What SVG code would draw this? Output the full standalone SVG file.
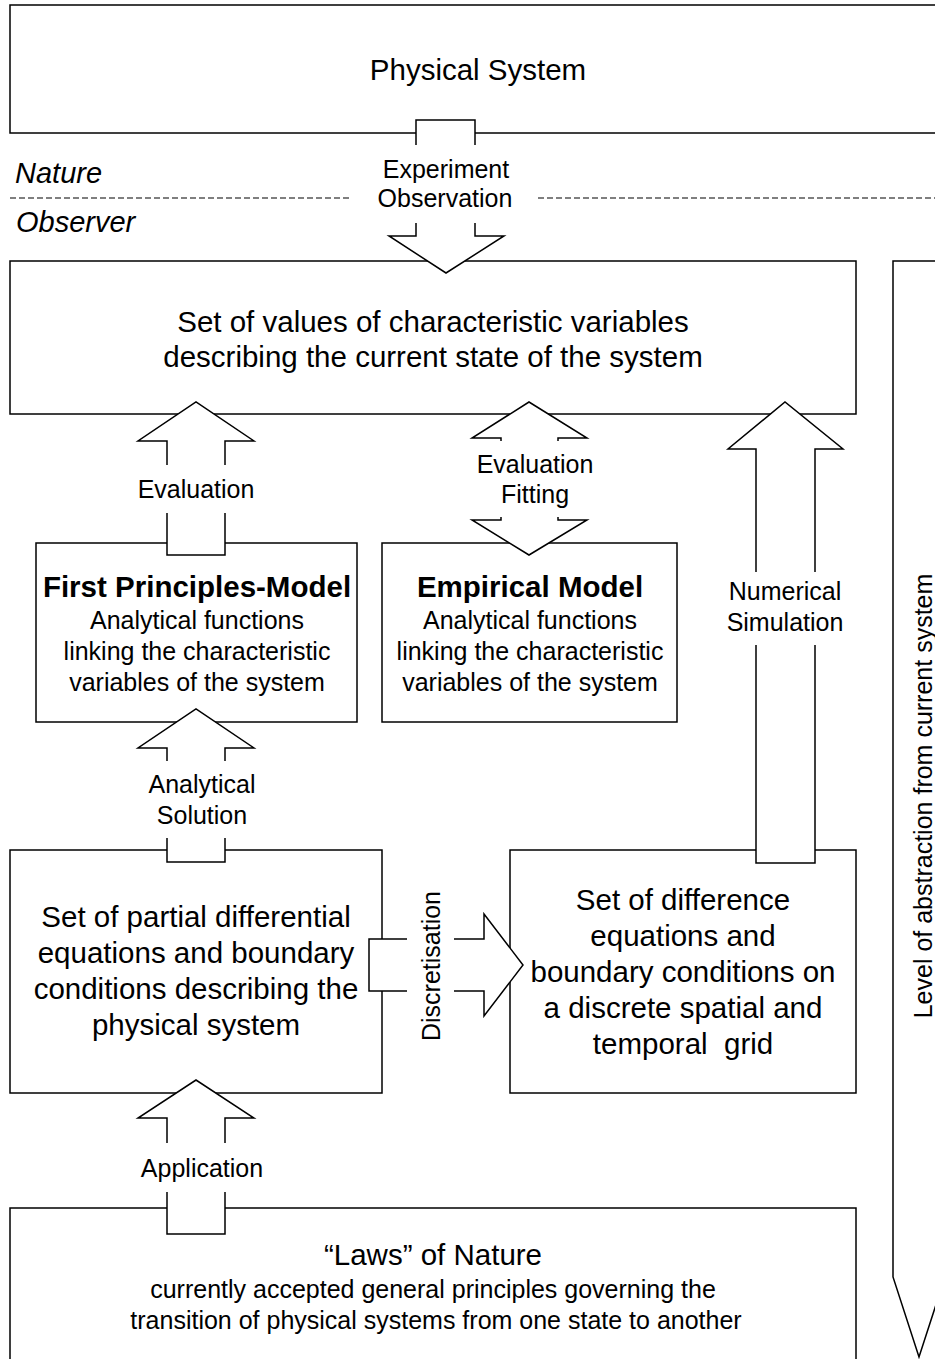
<svg xmlns="http://www.w3.org/2000/svg" width="935" height="1359" viewBox="0 0 935 1359">
<style>
.box{fill:#fff;stroke:#000;stroke-width:1.5}
.af{fill:#fff;stroke:none}
.as{fill:none;stroke:#000;stroke-width:1.5;stroke-linejoin:miter}
.big{font-family:"Liberation Sans",Arial,sans-serif;font-size:29.5px;fill:#000;text-anchor:middle}
.bold{font-family:"Liberation Sans",Arial,sans-serif;font-size:29.5px;font-weight:bold;fill:#000;text-anchor:middle}
.lbl{font-family:"Liberation Sans",Arial,sans-serif;font-size:25px;fill:#000;text-anchor:middle}
.it{font-family:"Liberation Sans",Arial,sans-serif;font-size:29px;font-style:italic;fill:#000}
.dash{stroke:#000;stroke-width:1.2;stroke-dasharray:6,3;fill:none}
</style>
<rect width="935" height="1359" fill="#fff"/>

<g id="nature-observer">
<text class="it" x="15" y="183">Nature</text>
<text class="it" x="16" y="232">Observer</text>
<path class="dash" d="M10,198 H352 M538,198 H935"/>
</g>

<g id="physical-system">
<rect class="box" x="10" y="5" width="940" height="128"/>
<text class="big" x="478" y="80">Physical System</text>
</g>

<g id="state-values">
<rect class="box" x="10" y="261" width="846" height="153"/>
<text class="big" x="433" y="332">Set of values of characteristic variables</text>
<text class="big" x="433" y="367">describing the current state of the system</text>
</g>

<g id="first-principles">
<rect class="box" x="36" y="543" width="321" height="179"/>
<text class="bold" x="197" y="597">First Principles-Model</text>
<text class="lbl" x="197" y="629">Analytical functions</text>
<text class="lbl" x="197" y="660">linking the characteristic</text>
<text class="lbl" x="197" y="691">variables of the system</text>
</g>

<g id="empirical">
<rect class="box" x="382" y="543" width="295" height="179"/>
<text class="bold" x="530" y="597">Empirical Model</text>
<text class="lbl" x="530" y="629">Analytical functions</text>
<text class="lbl" x="530" y="660">linking the characteristic</text>
<text class="lbl" x="530" y="691">variables of the system</text>
</g>

<g id="pde">
<rect class="box" x="10" y="850" width="372" height="243"/>
<text class="big" x="196" y="927">Set of partial differential</text>
<text class="big" x="196" y="963">equations and boundary</text>
<text class="big" x="196" y="999">conditions describing the</text>
<text class="big" x="196" y="1035">physical system</text>
</g>

<g id="difference">
<rect class="box" x="510" y="850" width="346" height="243"/>
<text class="big" x="683" y="910">Set of difference</text>
<text class="big" x="683" y="946">equations and</text>
<text class="big" x="683" y="982">boundary conditions on</text>
<text class="big" x="683" y="1018">a discrete spatial and</text>
<text class="big" x="683" y="1054" xml:space="preserve">temporal  grid</text>
</g>

<g id="laws">
<rect class="box" x="10" y="1208" width="846" height="200"/>
<text class="big" x="433" y="1265">“Laws” of Nature</text>
<text class="lbl" font-size="25.5" x="433" y="1298">currently accepted general principles governing the</text>
<text class="lbl" font-size="25.5" x="436" y="1329">transition of physical systems from one state to another</text>
</g>

<g id="abstraction-arrow">
<path class="box" d="M893,261 H945 V1277 L919,1357 L893,1277 Z"/>
<text class="lbl" font-size="24" transform="translate(932,796) rotate(-90)">Level of abstraction from current system</text>
</g>

<g id="connectors">
<g id="experiment">
<path class="af" d="M416,120 H475 V236 H504 L446,273 L389,236 H416 Z"/>
<path class="as" d="M416,145 V120 H475 V145 M416,223 V236 H389 L446,273 L504,236 H475 V223"/>
<text class="lbl" x="446" y="178">Experiment</text>
<text class="lbl" x="445" y="207">Observation</text>
</g>
<g id="evaluation">
<path class="af" d="M196,402 L254,441 H225 V555 H167 V441 H138 Z"/>
<path class="as" d="M167,465 V441 H138 L196,402 L254,441 H225 V465 M167,513 V555 H225 V513"/>
<text class="lbl" x="196" y="498">Evaluation</text>
</g>
<g id="evaluation-fitting">
<path class="af" d="M529,402 L587,438 H558 V520 H587 L529,555 L472,520 H501 V438 H472 Z"/>
<path class="as" d="M501,441 V438 H472 L529,402 L587,438 H558 V441 M501,517 V520 H472 L529,555 L587,520 H558 V517"/>
<text class="lbl" x="535" y="473">Evaluation</text>
<text class="lbl" x="535" y="503">Fitting</text>
</g>
<g id="numerical">
<path class="af" d="M785,402 L843,449 H815 V863 H756 V449 H728 Z"/>
<path class="as" d="M756,572 V449 H728 L785,402 L843,449 H815 V572 M756,645 V863 H815 V645"/>
<text class="lbl" x="785" y="600">Numerical</text>
<text class="lbl" x="785" y="631">Simulation</text>
</g>
<g id="analytical">
<path class="af" d="M196,709 L254,748 H225 V862 H167 V748 H138 Z"/>
<path class="as" d="M167,761 V748 H138 L196,709 L254,748 H225 V761 M167,838 V862 H225 V838"/>
<text class="lbl" x="202" y="793">Analytical</text>
<text class="lbl" x="202" y="824">Solution</text>
</g>
<g id="application">
<path class="af" d="M196,1080 L254,1118 H225 V1234 H167 V1118 H138 Z"/>
<path class="as" d="M167,1143 V1118 H138 L196,1080 L254,1118 H225 V1143 M167,1192 V1234 H225 V1192"/>
<text class="lbl" x="202" y="1177">Application</text>
</g>
<g id="discretisation">
<path class="af" d="M369,939 H484 V914 L523,965 L484,1016 V991 H369 Z"/>
<path class="as" d="M407,939 H369 V991 H407 M454,939 H484 V914 L523,965 L484,1016 V991 H454"/>
<text class="lbl" transform="translate(440,966) rotate(-90)">Discretisation</text>
</g>
</g>
</svg>
